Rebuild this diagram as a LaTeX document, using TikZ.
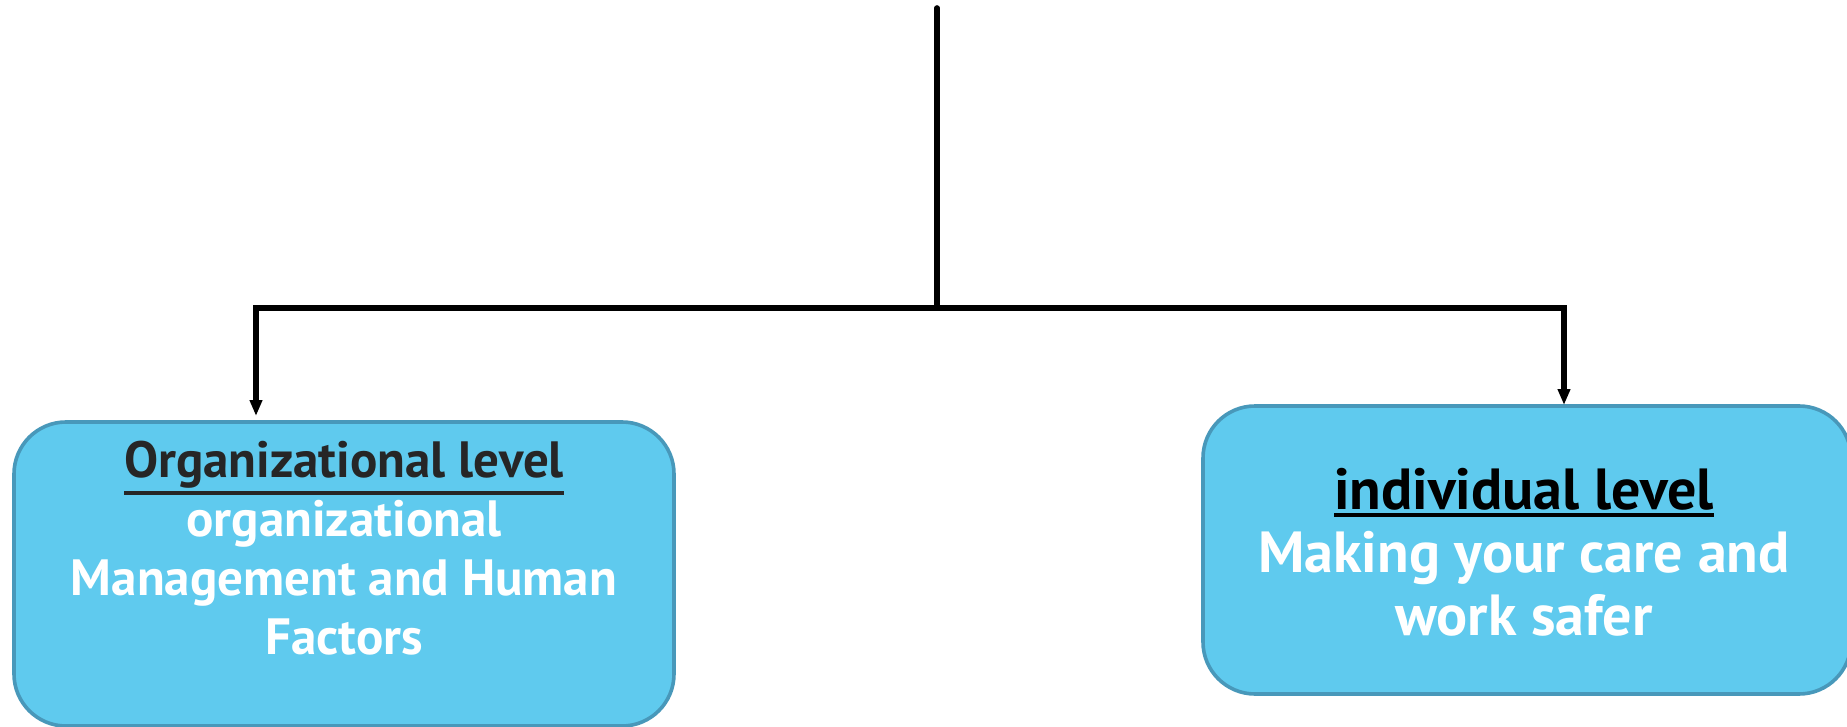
\documentclass[tikz,border=0pt]{standalone}
\usepackage{fontspec}
\setmainfont{PT Sans}
\usetikzlibrary{positioning, arrows.meta}

\definecolor{boxfill}{RGB}{95,202,238}
\definecolor{boxline}{RGB}{72,152,186}
\definecolor{titlegray}{RGB}{38,38,38}

% thick underline for the box titles
\newcommand{\lvlul}[1]{\leavevmode\vtop{\hbox{#1}\kern1.5pt\hrule height 2pt}}

\begin{document}
\begin{tikzpicture}[x=0.5pt, y=-0.5pt,
		% Define styles for the boxes and the lines
		levelbox/.style={
			rectangle, rounded corners=26pt, draw=boxline, fill=boxfill,
			line width=1.8pt, inner sep=0pt
		},
		leveltext/.style={
			align=center, text=white
		},
		link/.style={
			line width=2.8pt, draw=black, line cap=round
		},
		arrow/.style={
			link, -{Triangle[length=8pt, width=6pt]}
		}
		]
		\useasboundingbox (0,0) rectangle (1847,727);
		
		% The two level boxes
		\node[levelbox, minimum width=330pt, minimum height=152pt] (org) at (344,574) {};
		\node[levelbox, minimum width=324pt, minimum height=144pt] (ind) at (1527,550) {};
		
		% Their texts
		\node[leveltext, font=\fontsize{25.5}{29.5}\selectfont\bfseries] (orgtext) at (344,548) {
			\textcolor{titlegray}{\lvlul{Organizational level}} \\
			organizational \\
			Management and Human \\
			Factors
		};
		\node[leveltext, font=\fontsize{29}{31.5}\selectfont\bfseries] (indtext) at (1524,552) {
			\textcolor{black}{\lvlul{individual level}} \\
			Making your care and \\
			work safer
		};
		
		% Points where the lines start and split
		\coordinate (top) at (937,8);
		\coordinate (split) at (937,308);
		\coordinate (orgin) at (256,416);
		\coordinate (indin) at (1564,405);
		
		% Draw the tree lines down to the boxes
		\draw[link] (top) -- (split);
		\draw[arrow] (split) -| (orgin);
		\draw[arrow] (split) -| (indin);
		
	\end{tikzpicture}
\end{document}
